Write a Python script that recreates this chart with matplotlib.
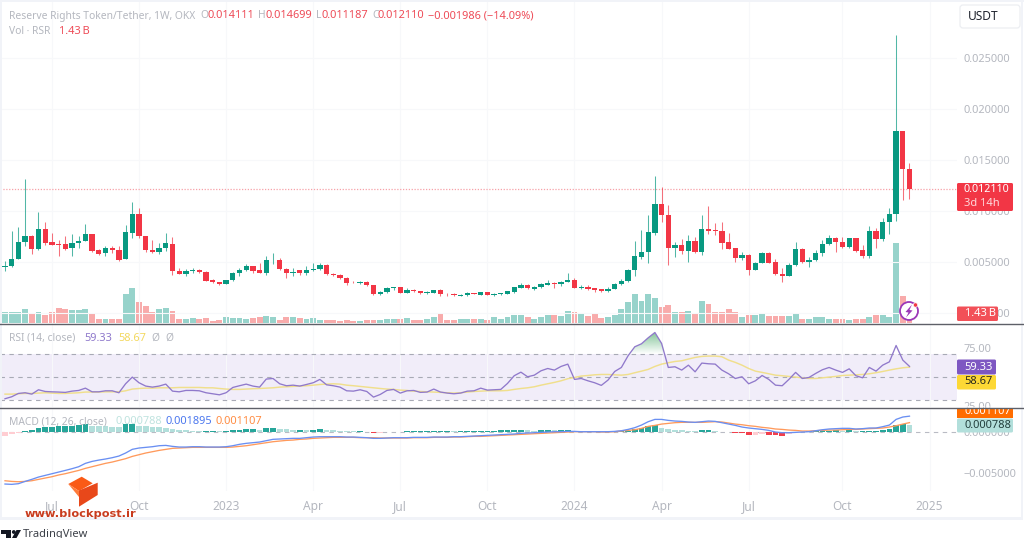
import numpy as np
import matplotlib
matplotlib.use("Agg")
import matplotlib.pyplot as plt
from matplotlib.patches import Circle, Polygon, Rectangle, FancyBboxPatch

plt.rcParams["font.family"] = ["Noto Sans", "DejaVu Sans"]

# Weekly RSR/USDT candles, prices in thousandths of a USDT
opens = [4.54,4.61,5.26,6.96,7.55,6.24,8.27,6.93,6.73,6.73,
         6.34,6.83,7.06,7.75,6.14,5.92,6.37,6.21,5.26,7.88,
         9.67,7.55,6.21,6.01,6.34,6.76,4.08,3.82,4.15,4.18,
         4.02,3.24,3.01,2.84,3.20,3.92,4.18,4.61,4.18,3.95,
         5.26,5.23,4.31,3.95,4.18,3.89,4.18,4.28,4.71,3.86,
         3.69,3.43,2.97,2.91,3.07,2.71,1.86,2.03,2.42,2.52,
         1.99,2.25,2.16,1.96,1.99,2.22,1.90,1.83,1.70,1.76,
         1.93,1.80,2.03,1.80,1.86,1.86,2.09,2.48,2.75,2.39,
         2.55,2.78,2.94,2.84,3.07,3.20,2.48,2.52,2.42,2.32,
         2.12,2.35,2.84,3.10,4.22,5.49,5.98,7.88,10.72,9.58,
         6.34,6.63,6.05,7.06,5.95,8.27,8.14,8.07,6.93,6.34,
         5.39,5.72,4.25,4.90,5.92,5.00,3.86,3.63,4.67,6.27,
         4.97,5.20,5.88,6.73,7.32,6.99,6.47,7.32,6.14,5.62,
         8.07,7.22,8.89,9.70,17.80,14.111]
highs = [5.13,8.07,8.46,13.10,7.65,9.87,8.95,7.81,7.16,7.55,
         7.75,7.58,8.73,7.78,6.24,6.57,6.60,6.60,8.59,10.88,
         10.33,7.58,7.12,6.83,7.81,7.42,4.38,4.28,4.44,4.28,
         4.12,3.33,3.07,3.27,4.02,4.38,4.84,4.64,4.87,5.62,
         5.92,5.42,4.38,4.38,4.25,4.61,4.93,4.93,4.77,3.95,
         3.79,3.50,3.14,3.10,3.14,2.78,2.12,2.52,2.55,2.58,
         2.42,2.35,2.19,2.12,2.25,2.32,1.99,1.96,1.83,2.06,
         1.96,2.06,2.06,1.93,1.99,2.19,2.58,2.91,2.88,2.68,
         2.91,3.20,3.01,3.17,3.89,3.46,2.78,2.71,2.45,2.39,
         2.52,2.94,3.30,4.35,7.03,8.10,9.64,13.43,12.32,10.59,
         6.93,7.25,7.68,7.48,9.61,10.49,8.86,8.89,7.81,6.41,
         6.01,5.78,5.00,5.95,5.98,5.26,4.41,4.93,6.99,6.37,
         5.52,6.18,7.16,7.65,7.42,7.48,7.39,7.39,6.67,8.53,
         8.30,9.35,10.26,27.30,17.85,14.699]
lows = [4.08,4.54,5.26,6.57,5.75,6.14,6.67,6.67,5.59,6.18,
        5.62,6.41,7.06,5.98,5.65,5.62,5.85,5.13,5.26,7.39,
        7.39,6.01,5.88,5.75,6.05,3.76,3.82,3.66,3.92,3.95,
        3.14,2.97,2.75,2.84,3.17,3.63,4.15,3.92,3.92,3.76,
        4.80,4.25,3.43,3.66,3.76,3.76,4.08,4.22,3.73,3.66,
        3.37,2.75,2.91,2.81,2.68,1.73,1.80,1.99,2.25,1.93,
        1.96,2.09,1.90,1.83,1.93,1.63,1.70,1.63,1.63,1.67,
        1.83,1.76,1.73,1.70,1.73,1.83,1.99,2.42,2.35,2.22,
        2.45,2.71,2.45,2.61,3.01,2.42,2.32,2.29,2.09,2.06,
        2.09,2.32,2.75,3.04,3.63,5.29,4.90,7.61,8.95,4.71,
        5.46,5.78,5.03,5.92,5.69,7.75,7.68,6.24,6.24,5.03,
        5.16,3.73,4.22,4.87,4.87,3.76,3.07,3.59,4.64,4.90,
        4.54,5.13,5.62,6.70,5.95,6.34,6.41,6.01,5.39,5.42,
        6.41,7.06,7.75,9.05,11.08,11.187]
closes = [4.61,5.29,6.99,7.55,6.24,8.27,6.90,6.67,6.67,6.31,
          6.83,7.09,7.75,6.05,5.75,6.34,6.14,5.23,7.91,9.67,
          7.52,6.18,6.01,6.34,6.83,4.12,3.86,4.15,4.22,4.02,
          3.17,3.01,2.81,3.20,3.95,4.22,4.61,4.12,3.95,5.23,
          5.33,4.28,3.89,4.05,3.89,4.18,4.31,4.71,3.82,3.73,
          3.43,2.91,2.91,3.04,2.71,1.86,2.03,2.45,2.52,1.99,
          2.25,2.19,1.93,2.03,2.22,1.83,1.83,1.76,1.76,1.93,
          1.86,2.03,1.80,1.86,1.93,2.16,2.52,2.78,2.42,2.58,
          2.81,2.94,2.84,3.07,3.24,2.48,2.55,2.35,2.25,2.12,
          2.39,2.88,3.17,4.22,5.56,5.98,7.91,10.72,9.58,6.34,
          6.63,6.05,7.06,5.98,8.27,8.04,8.07,6.86,6.31,5.36,
          5.72,4.25,4.93,5.92,4.93,3.79,3.63,4.71,6.27,4.97,
          5.23,5.92,6.76,7.32,6.96,6.47,7.32,6.08,5.59,8.07,
          7.25,8.95,9.67,17.80,14.111,12.11]

# Weekly volume in billions of RSR
volumes = [1.52,1.62,1.52,1.95,1.33,1.52,1.14,1.52,2.19,1.95,
           1.81,1.81,2.05,1.24,0.62,0.62,0.62,0.62,4.19,5.05,
           3.00,2.48,1.52,2.05,2.19,1.76,0.52,0.62,0.71,0.52,
           0.71,0.33,0.43,0.90,0.71,0.71,0.62,0.71,0.90,1.05,
           0.90,0.43,0.81,0.90,0.71,0.62,0.71,0.43,0.43,0.43,
           0.33,0.43,0.33,0.33,0.43,0.43,0.43,0.52,0.52,0.52,
           0.71,0.43,0.43,0.52,0.81,1.24,0.43,0.43,0.52,0.62,
           0.52,0.52,0.43,0.81,0.62,0.90,1.14,1.14,0.90,0.62,
           0.81,1.14,1.14,1.05,1.76,1.62,1.43,1.05,1.33,0.71,
           0.90,1.14,2.00,3.00,4.19,3.19,4.19,3.52,2.24,2.57,
           1.62,1.52,1.76,1.43,3.10,2.71,1.57,1.57,1.95,1.57,
           0.90,1.14,1.14,1.33,1.05,0.95,1.05,1.05,1.33,0.62,
           0.62,0.81,0.81,0.52,0.62,0.52,0.43,0.52,0.52,0.81,
           1.14,1.14,0.90,11.43,3.90,1.43]

rsi_values = [31.2,32.9,35.8,36.4,35.2,39.0,37.5,37.2,37.0,36.7,
              37.8,38.4,40.4,37.2,37.2,38.1,38.1,36.4,44.2,50.0,
              45.1,42.2,41.3,42.2,43.9,37.8,37.2,38.4,38.4,38.1,
              36.4,35.5,34.6,36.4,41.0,42.5,43.9,42.2,41.3,48.3,
              48.8,44.2,42.5,43.0,42.2,43.6,45.1,48.0,43.3,42.5,
              41.3,38.1,37.8,39.0,37.5,32.6,34.9,38.4,39.3,36.1,
              38.1,38.4,36.7,37.0,39.6,37.0,36.1,35.5,36.1,37.8,
              38.1,40.4,38.7,39.0,39.3,44.5,51.2,54.3,50.3,51.7,
              55.5,57.5,56.1,59.3,61.3,48.0,48.8,46.8,45.1,42.8,
              47.4,54.9,58.4,68.6,76.4,79.0,84.2,88.8,79.3,58.4,
              59.0,56.1,60.4,54.6,62.2,61.6,61.3,56.1,52.9,48.8,
              50.3,44.2,46.8,51.4,48.0,43.0,42.5,48.0,54.1,48.8,
              49.7,53.2,56.4,58.4,56.1,54.1,57.2,51.2,49.4,58.4,
              55.2,60.4,63.3,77.5,64.8,59.33]
rsi_average = [35.2,35.2,35.5,35.8,35.8,36.1,36.4,36.1,35.8,35.8,
               36.1,36.4,37.0,37.0,37.0,37.2,37.2,37.2,38.1,39.6,
               40.1,40.4,40.4,40.7,40.7,40.7,41.0,41.0,41.0,41.0,
               40.7,40.7,40.1,39.6,39.3,39.3,39.6,39.9,40.1,40.4,
               40.7,41.3,41.6,41.9,42.2,42.5,43.0,43.6,43.9,44.2,
               43.9,43.0,42.5,41.9,41.3,40.7,40.1,39.6,39.3,38.7,
               38.4,37.8,37.5,37.2,37.0,36.7,36.4,36.1,36.4,37.0,
               37.5,37.8,38.1,38.1,38.1,38.4,39.3,40.1,40.7,41.6,
               43.0,44.2,45.4,46.8,48.6,49.7,50.9,51.4,52.0,52.3,
               52.3,52.0,51.7,52.3,53.8,55.2,56.7,59.3,61.3,62.5,
               63.6,64.2,65.7,67.1,68.0,68.3,68.3,67.7,64.8,62.8,
               60.4,57.5,55.2,54.1,52.9,51.7,51.2,50.6,50.0,49.4,
               48.8,48.8,49.4,50.0,50.6,51.4,51.7,52.0,52.3,52.9,
               53.8,54.9,56.1,57.2,58.1,58.67]

# MACD pane, thousandths of a USDT
macd_line = [-6.38,-6.42,-6.34,-6.06,-5.81,-5.53,-5.33,-5.12,-4.92,-4.72,
             -4.51,-4.27,-3.86,-3.62,-3.46,-3.33,-3.17,-2.97,-2.60,-2.15,
             -1.99,-1.91,-1.83,-1.71,-1.67,-1.79,-1.87,-1.87,-1.83,-1.83,
             -1.87,-1.87,-1.87,-1.83,-1.71,-1.54,-1.42,-1.34,-1.26,-1.10,
             -0.93,-0.89,-0.85,-0.81,-0.81,-0.73,-0.65,-0.61,-0.61,-0.61,
             -0.61,-0.65,-0.65,-0.69,-0.73,-0.81,-0.81,-0.77,-0.73,-0.73,
             -0.73,-0.69,-0.69,-0.69,-0.65,-0.65,-0.65,-0.61,-0.61,-0.57,
             -0.53,-0.49,-0.45,-0.41,-0.37,-0.33,-0.28,-0.20,-0.16,-0.12,
             -0.08,-0.04,0.00,0.00,0.04,0.04,0.00,0.00,0.00,0.00,
             0.00,0.04,0.12,0.28,0.49,0.81,1.22,1.50,1.50,1.38,
             1.30,1.26,1.18,1.14,1.22,1.30,1.26,1.10,0.93,0.77,
             0.57,0.45,0.37,0.28,0.16,-0.04,-0.12,-0.12,-0.08,-0.04,
             0.00,0.12,0.24,0.33,0.37,0.41,0.41,0.33,0.37,0.45,
             0.45,0.61,0.81,1.50,1.79,1.895]
signal_line = [-5.98,-6.06,-6.10,-6.06,-5.98,-5.81,-5.65,-5.49,-5.28,-5.12,
               -4.92,-4.72,-4.47,-4.27,-4.07,-3.86,-3.70,-3.50,-3.29,-3.01,
               -2.80,-2.60,-2.44,-2.28,-2.15,-2.03,-1.99,-1.95,-1.91,-1.91,
               -1.91,-1.91,-1.91,-1.91,-1.87,-1.79,-1.71,-1.59,-1.46,-1.34,
               -1.22,-1.14,-1.06,-1.02,-0.93,-0.89,-0.81,-0.77,-0.73,-0.69,
               -0.69,-0.69,-0.69,-0.73,-0.73,-0.73,-0.77,-0.77,-0.77,-0.77,
               -0.77,-0.73,-0.73,-0.73,-0.69,-0.69,-0.69,-0.65,-0.65,-0.61,
               -0.57,-0.57,-0.53,-0.49,-0.45,-0.41,-0.37,-0.33,-0.28,-0.24,
               -0.20,-0.16,-0.12,-0.08,-0.04,0.00,0.00,0.00,0.00,-0.04,
               -0.04,0.00,0.08,0.16,0.24,0.41,0.65,0.77,0.93,1.02,
               1.10,1.14,1.14,1.14,1.14,1.18,1.22,1.18,1.06,0.93,
               0.85,0.73,0.65,0.53,0.45,0.33,0.28,0.20,0.16,0.08,
               0.08,0.12,0.16,0.20,0.20,0.24,0.28,0.28,0.33,0.37,
               0.41,0.45,0.57,0.73,0.93,1.107]
macd_hist = [-0.49,-0.33,-0.20,0.08,0.20,0.45,0.61,0.61,0.65,0.69,
             0.73,0.77,0.89,0.73,0.69,0.65,0.61,0.57,0.89,0.89,
             0.73,0.69,0.61,0.57,0.49,0.37,0.20,0.16,0.12,0.08,
             0.08,0.08,0.04,0.12,0.20,0.24,0.28,0.33,0.20,0.45,
             0.45,0.33,0.28,0.24,0.24,0.20,0.24,0.28,0.20,0.16,
             0.12,0.08,0.04,0.04,-0.08,-0.12,-0.12,-0.08,-0.04,-0.04,
             0.04,0.04,0.04,0.04,0.12,0.12,0.12,0.08,0.12,0.12,
             0.12,0.12,0.12,0.12,0.16,0.20,0.24,0.24,0.16,0.12,
             0.20,0.24,0.16,0.16,0.16,0.12,0.04,0.04,0.02,-0.02,
             0.02,0.04,0.08,0.12,0.28,0.49,0.73,0.77,0.49,0.33,
             0.20,0.16,0.12,0.08,0.16,0.16,0.08,-0.04,-0.08,-0.16,
             -0.20,-0.45,-0.45,-0.24,-0.41,-0.45,-0.49,-0.33,-0.12,-0.08,
             0.04,0.08,0.08,0.12,0.20,0.12,0.20,0.04,0.04,0.08,
             0.12,0.20,0.33,0.77,0.89,0.788]

year_ticks = [7, 20, 33, 46, 59, 72, 85, 98, 111, 125, 138]
year_labels = ["Jul", "Oct", "2023", "Apr", "Jul", "Oct", "2024", "Apr", "Jul", "Oct", "2025"]
price_ticks = [0.0, 0.005, 0.010, 0.015, 0.020, 0.025]
rsi_ticks = [25, 75]
macd_ticks = [0.0, -0.005]

FIG_W, FIG_H = 1024, 538
GREEN, RED = "#089981", "#F23645"
GREEN_SOFT, RED_SOFT = "#97D3CB", "#F8ABAB"
GREY_TEXT = "#B4B7BF"

weeks = np.arange(len(opens))
unit = 1e-3
opens_a, highs_a, lows_a, closes_a = (np.array(s) * unit for s in (opens, highs, lows, closes))
rising = closes_a >= opens_a

fig = plt.figure(figsize=(FIG_W / 100, FIG_H / 100), dpi=100, facecolor="white")


def pane(left, top, right, bottom, zorder=1):
    ax = fig.add_axes([left / FIG_W, 1 - bottom / FIG_H, (right - left) / FIG_W, (bottom - top) / FIG_H],
                      zorder=zorder)
    ax.set_xlim(-0.746, 142.09)
    ax.set_xticks([])
    ax.patch.set_visible(False)
    for s in ax.spines.values():
        s.set_visible(False)
    ax.yaxis.tick_right()
    ax.tick_params(axis="both", length=0, labelsize=7.9, labelcolor=GREY_TEXT)
    return ax


def grid_x(ax):
    for t in year_ticks:
        ax.axvline(t, color="#F7F8FA", lw=0.8, zorder=0)


# Volume histogram under the candles
ax_vol = pane(0, 0, 957, 323, zorder=1)
ax_vol.set_ylim(0, 46.14)
ax_vol.set_yticks([])
ax_vol.bar(weeks, volumes, width=0.88, color=[GREEN_SOFT if r else RED_SOFT for r in rising], zorder=2)

# Candles
ax_price = pane(0, 0, 957, 323, zorder=2)
ax_price.set_ylim(-0.00098, 0.03069)
ax_price.set_yticks(price_ticks)
ax_price.set_yticklabels([f"{t:.6f}" for t in price_ticks])
ax_price.tick_params(axis="y", pad=5)
grid_x(ax_price)
for t in price_ticks:
    ax_price.axhline(t, color="#F7F8FA", lw=0.8, zorder=0)
candle_colors = [GREEN if r else RED for r in rising]
ax_price.vlines(weeks, lows_a, highs_a, colors=candle_colors, lw=0.75, alpha=0.7, zorder=3)
ax_price.bar(weeks, np.abs(closes_a - opens_a), bottom=np.minimum(opens_a, closes_a),
             width=0.78, color=candle_colors, zorder=4)
ax_price.axhline(closes_a[-1], color="#F7A1A8", lw=0.9, ls=(0, (1, 1.3)), zorder=2)

# RSI pane
ax_rsi = pane(0, 324, 957, 407, zorder=2)
ax_rsi.set_ylim(24.0, 96.2)
ax_rsi.set_yticks(rsi_ticks)
ax_rsi.set_yticklabels([f"{t:.2f}" for t in rsi_ticks])
ax_rsi.tick_params(axis="y", pad=5)
ax_rsi.axhspan(30, 70, color="#F1EDF9", lw=0, zorder=0)
grid_x(ax_rsi)
for level in (70, 50, 30):
    ax_rsi.axhline(level, color="#A8AAB5", lw=0.8, ls=(0, (4, 4)), zorder=1)
rsi_a = np.array(rsi_values)
over = ax_rsi.fill_between(weeks, 70, rsi_a, where=rsi_a >= 70, interpolate=True, color="none", lw=0)
gradient = np.linspace(0.62, 0.0, 64).reshape(-1, 1)
shade = np.zeros((64, 1, 4))
shade[..., :3] = matplotlib.colors.to_rgb("#2E9B52")
shade[..., 3] = gradient
img = ax_rsi.imshow(shade, extent=(88, 102, 70, 90), aspect="auto", origin="upper", zorder=1.5)
img.set_clip_path(over.get_paths()[0], transform=ax_rsi.transData)
ax_rsi.set_xlim(-0.746, 142.09)
ax_rsi.set_ylim(24.0, 96.2)
ax_rsi.plot(weeks, rsi_average, color="#F0DF8C", lw=1.05, zorder=2)
ax_rsi.plot(weeks, rsi_values, color="#9079CB", lw=0.95, zorder=3)

# MACD pane with the date axis beneath it
ax_macd = pane(0, 408, 957, 491, zorder=2)
ax_macd.set_ylim(-0.00723, 0.00289)
ax_macd.set_yticks(macd_ticks)
ax_macd.set_yticklabels(["0.000000", "\u22120.005000"])
ax_macd.tick_params(axis="y", pad=5)
grid_x(ax_macd)
ax_macd.axhline(0, color="#B9BBC4", lw=0.8, ls=(0, (4, 4)), zorder=1)
hist_a = np.array(macd_hist) * unit
hist_colors = []
for i, h in enumerate(hist_a):
    prev = hist_a[i - 1] if i else h
    if h >= 0:
        hist_colors.append("#26A69A" if h >= prev else "#B2DFDB")
    else:
        hist_colors.append("#FFCDD2" if h >= prev else "#F23F4C")
ax_macd.bar(weeks, hist_a, width=0.86, color=hist_colors, zorder=2)
ax_macd.plot(weeks, np.array(signal_line) * unit, color="#FF9A5C", lw=0.95, zorder=3)
ax_macd.plot(weeks, np.array(macd_line) * unit, color="#6A8FF2", lw=0.95, zorder=4)
ax_macd.set_xticks(year_ticks)
ax_macd.set_xticklabels(year_labels)
ax_macd.tick_params(axis="x", pad=6.5, labelsize=8.6, labelcolor=GREY_TEXT)
for lab in ax_macd.get_xticklabels():
    if lab.get_text().isdigit():
        lab.set_fontweight("bold")

# Chrome drawn in screen pixels: frame, legends, price tags and logos
ui = fig.add_axes([0, 0, 1, 1], zorder=5)
ui.set_xlim(0, FIG_W)
ui.set_ylim(FIG_H, 0)
ui.axis("off")
ui.patch.set_visible(False)


def label(x, y, text, color=GREY_TEXT, size=7.4, weight="normal", ha="left", **kw):
    return ui.text(x, y, text, color=color, fontsize=size, fontweight=weight, ha=ha, va="center", **kw)


def tag(x0, y0, x1, y1, face):
    ui.add_patch(FancyBboxPatch((x0 + 1, y0 + 1), x1 - x0 - 2, y1 - y0 - 2,
                                boxstyle="round,pad=1,rounding_size=1.5", fc=face, ec="none", zorder=3))


ui.add_patch(Rectangle((0, 0), FIG_W, 1.5, fc="#F1F3F8", ec="none"))
ui.add_patch(Rectangle((0, 0), 1.5, 518, fc="#F1F3F8", ec="none"))
ui.add_patch(Rectangle((0, 517), FIG_W - 1, 3, fc="#F1F3F8", ec="none"))
ui.add_patch(Rectangle((FIG_W - 3, 0), 2, 520, fc="#F1F3F8", ec="none"))
for y in (323.5, 407.5):
    ui.plot([0, FIG_W], [y, y], color="#5E6068", lw=1.0, zorder=4)

# Symbol legend
label(9, 16, "Reserve Rights Token/Tether, 1W, OKX")
for x, key in ((200, "O"), (258, "H"), (316, "L"), (372, "C")):
    label(x, 16, key)
for x, value in ((207.5, "0.014111"), (265, "0.014699"), (321.5, "0.011187"), (378, "0.012110"),
                 (428, "\u22120.001986 (\u221214.09%)")):
    label(x, 16, value, color="#EE4B57", size=7.9)
label(9, 31, "Vol \u00b7 RSR")
label(59, 31, "1.43\u2009B", color="#EE4B57", size=7.9)

# Currency button
ui.add_patch(FancyBboxPatch((961, 6), 58, 21, boxstyle="round,pad=1,rounding_size=3",
                            fc="white", ec="#ECEEF2", lw=0.9))
label(968, 16.5, "USDT", color="#20242E", size=8.6)

# Last-price tag
tag(957, 183, 1013, 211, "#F23645")
label(964, 190, "0.012110", color="white", size=7.7, weight="bold")
label(964, 203, "3d 14h", color="#FFD7DA", size=8.0)

# Volume tag and alert icon
tag(957, 306.5, 998, 321, "#F25058")
label(965, 314, "1.43\u2009B", color="white", size=8.0)
ui.add_patch(Circle((909, 311), 9, fc="white", ec="#9C38B8", lw=1.3, zorder=2))
ui.add_patch(Polygon([[912, 304.5], [905.5, 312], [908.5, 312.5], [906, 317.5], [912.5, 310.5], [909.5, 310]],
                     closed=True, fc="#9C38B8", ec="none", zorder=3))
ui.add_patch(Circle((915.5, 305), 2.2, fc="#F23645", ec="white", lw=0.5, zorder=3))

# Indicator legends
label(9, 338.5, "RSI (14, close)")
label(84, 338.5, "59.33", color="#8E78CB", size=7.9)
label(118, 338.5, "58.67", color="#F3D85E", size=7.9)
label(151, 338.5, "\u00d8")
label(165, 338.5, "\u00d8")
label(9, 422, "MACD (12, 26, close)")
label(116, 422, "0.000788", color="#BFE3DF", size=7.9)
label(166, 422, "0.001895", color="#4B77EE", size=7.9)
label(216, 422, "0.001107", color="#FF8C42", size=7.9)

# Indicator value tags
tag(957, 359.5, 996, 374.5, "#7E57C2")
label(964.5, 367, "59.33", color="white", size=8.0)
tag(957, 375, 996, 389.5, "#FDD835")
label(964.5, 382, "58.67", color="#2A2A1E", size=8.0)
orange_tag = Rectangle((957, 408), 56, 10, fc="#FF6D00", ec="none", zorder=3)
ui.add_patch(orange_tag)
orange_text = label(964.5, 411, "0.001107", color="white", size=8.0, zorder=3.5)
orange_text.set_clip_path(orange_tag)
tag(957, 418.5, 1013, 432.5, "#B2DFDB")
label(964.5, 425.5, "0.000788", color="#23403E", size=8.0)

# Site watermark
ui.add_patch(Polygon([[68.3, 484], [81.7, 476.7], [92.7, 483.3], [79, 491]], closed=True, fc="#FA5A16", ec="none", zorder=5))
ui.add_patch(Polygon([[79, 490.5], [97.7, 482.7], [97.7, 495], [79, 506.7]], closed=True, fc="#E8481A", ec="none", zorder=5))
ui.add_patch(Polygon([[68.3, 484], [79, 491], [79, 497]], closed=True, fc="#FF7B3A", ec="none", zorder=5))
ui.text(80.5, 514, "www.blockpost.ir", color="#C93C1E", fontsize=8.2, fontweight="bold", ha="center", va="center",
        family="DejaVu Sans", zorder=5)

# Footer brand
ui.add_patch(Polygon([[1, 530], [11, 530], [11, 538], [6, 538], [6, 534], [1, 534]], closed=True, fc="#131722", ec="none"))
ui.add_patch(Circle((13.8, 532), 1.9, fc="#131722", ec="none"))
ui.add_patch(Polygon([[12, 538], [16.5, 530], [21, 530], [16.5, 538]], closed=True, fc="#131722", ec="none"))
label(23, 534, "TradingView", color="#3C4048", size=8.0)

fig.savefig("out.png", dpi=100, facecolor="white")
